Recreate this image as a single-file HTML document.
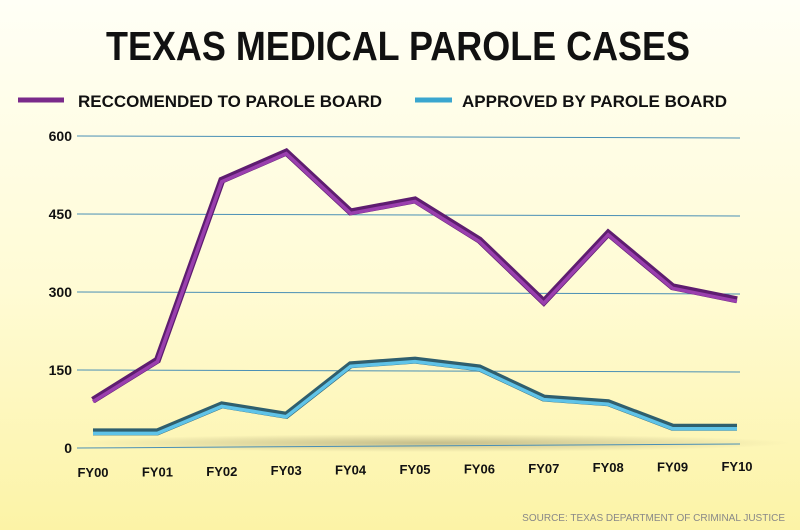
<!DOCTYPE html>
<html><head><meta charset="utf-8"><style>
body{margin:0;width:800px;height:530px;overflow:hidden;font-family:"Liberation Sans",sans-serif;background:linear-gradient(#fffff4 0%,#fffbd6 50%,#fdf4a8 100%);}
svg{position:absolute;left:0;top:0}
</style></head><body>
<svg width="800" height="530">
<defs>
<linearGradient id="bg" x1="0" y1="0" x2="0" y2="1"><stop offset="0" stop-color="#fffff6"/><stop offset="0.55" stop-color="#fffbd4"/><stop offset="1" stop-color="#fcf3a6"/></linearGradient>
<radialGradient id="sh" cx="0.5" cy="0.5" r="0.5"><stop offset="0" stop-color="#b8b080" stop-opacity="0.8"/><stop offset="1" stop-color="#b8b080" stop-opacity="0"/></radialGradient>
</defs>
<rect width="800" height="530" fill="url(#bg)"/>
<text x="398" y="60" text-anchor="middle" font-size="41" font-weight="bold" fill="#111" textLength="584" lengthAdjust="spacingAndGlyphs">TEXAS MEDICAL PAROLE CASES</text>
<g>
<line x1="18" y1="100" x2="64" y2="100" stroke="#7a2a8a" stroke-width="5"/>
<text x="78" y="107" font-size="17" font-weight="bold" fill="#111" textLength="304" lengthAdjust="spacingAndGlyphs">RECCOMENDED TO PAROLE BOARD</text>
<line x1="415" y1="100" x2="452" y2="100" stroke="#3aa6cf" stroke-width="5"/>
<text x="462" y="107" font-size="17" font-weight="bold" fill="#111" textLength="265" lengthAdjust="spacingAndGlyphs">APPROVED BY PAROLE BOARD</text>
</g>
<ellipse cx="430" cy="443" rx="360" ry="9" fill="url(#sh)"/>
<g id="grid"></g>
<g id="series"></g>
<text x="785" y="521" text-anchor="end" font-size="10" fill="#888">SOURCE: TEXAS DEPARTMENT OF CRIMINAL JUSTICE</text>
</svg>
<script>
const categories=["FY00","FY01","FY02","FY03","FY04","FY05","FY06","FY07","FY08","FY09","FY10"];
const recommended=[92,169,515,569,454,477,400,281,413,310,285];
const approved=[31,31,83,63,160,169,154,96,87,40,40];
const yTicks=[0,150,300,450,600];
const NS="http://www.w3.org/2000/svg";
function xs(i){return 93+i*64.4;}
function ys(v){return 448-v*0.52;}
function mk(t,a,p){const e=document.createElementNS(NS,t);for(const k in a)e.setAttribute(k,a[k]);p.appendChild(e);return e;}
const grid=document.getElementById('grid');
yTicks.forEach(v=>{
  const l=mk('line',{x1:77,y1:ys(v),x2:740,y2:ys(v)+(v===0?-4:2),stroke:'#4a8fb5','stroke-width':1},grid);
  
  
  const t=mk('text',{x:72-(v===0?0:0),y:ys(v)+5,'text-anchor':'end','font-size':14,'font-weight':'bold',fill:'#111'},grid);
  t.textContent=v;
  
  
});
categories.forEach((c,i)=>{
  const t=mk('text',{x:xs(i),y:477-i*0.6,'text-anchor':'middle','font-size':13,'font-weight':'bold',fill:'#111'},grid);
  t.textContent=c;
  
  
});
const sg=document.getElementById('series');
function draw(vals,dark,light,name){
  const pts=vals.map((v,i)=>xs(i)+','+ys(v)).join(' ');
  const a=mk('polyline',{points:pts,fill:'none',stroke:dark,'stroke-width':7,'stroke-linejoin':'miter'},sg);
  
  
  const b=mk('polyline',{points:vals.map((v,i)=>xs(i)+','+(ys(v)+1.5)).join(' '),fill:'none',stroke:light,'stroke-width':3.5},sg);
  
  
}
draw(recommended,'#5e1d70','#9a3fae','recommended');
draw(approved,'#2f5f6e','#5fc3e8','approved');
</script>
</body></html>
